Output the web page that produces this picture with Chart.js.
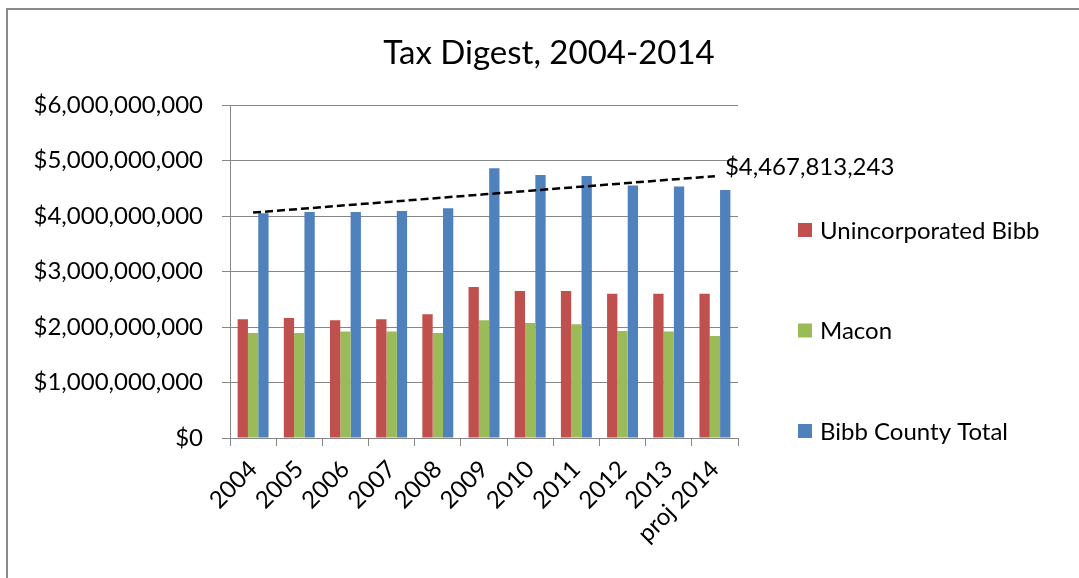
<!DOCTYPE html>
<html>
<head>
<meta charset="utf-8">
<title>Tax Digest, 2004-2014</title>
<script src="https://cdn.jsdelivr.net/npm/chart.js@4/dist/chart.umd.min.js"></script>
<style>
  html, body { margin: 0; padding: 0; background: #fff; }
  #wrap { width: 1079px; height: 578px; }
</style>
</head>
<body>
<div id="wrap"><canvas id="taxChart" width="1079" height="578"></canvas></div>
<script>
var years = ['2004', '2005', '2006', '2007', '2008', '2009', '2010', '2011', '2012', '2013', 'proj 2014'];
var unincorporated = [2140000000, 2160000000, 2120000000, 2140000000, 2230000000, 2720000000, 2650000000, 2650000000, 2600000000, 2600000000, 2600000000];
var macon = [1890000000, 1890000000, 1920000000, 1920000000, 1890000000, 2120000000, 2070000000, 2050000000, 1930000000, 1920000000, 1840000000];
var bibbTotal = [4050000000, 4070000000, 4070000000, 4090000000, 4140000000, 4860000000, 4740000000, 4720000000, 4550000000, 4530000000, 4467813243];
var yTicks = [0, 1000000000, 2000000000, 3000000000, 4000000000, 5000000000, 6000000000];

var FONT = 'Lato';
var GREY = '#868686';
var TITLE = 'Tax Digest, 2004-2014';

function money(v) {
  return '$' + Math.round(v).toLocaleString('en-US');
}

// least squares trend over the county total
function linearTrend(vals) {
  var n = vals.length, sx = 0, sy = 0, sxy = 0, sxx = 0;
  for (var i = 0; i < n; i++) {
    sx += i; sy += vals[i]; sxy += i * vals[i]; sxx += i * i;
  }
  var slope = (n * sxy - sx * sy) / (n * sxx - sx * sx);
  var icpt = (sy - slope * sx) / n;
  return vals.map(function (v, i) { return icpt + slope * i; });
}

// grey frame (top and left edges only are in view) plus the title
var frame = {
  id: 'frame',
  beforeDraw: function (chart) {
    var c = chart.ctx;
    c.save();
    c.strokeStyle = '#8a8a8a';
    c.lineWidth = 2;
    c.beginPath();
    c.moveTo(7, chart.height + 5);
    c.lineTo(7, 9);
    c.lineTo(chart.width + 5, 9);
    c.stroke();
    c.font = '33px ' + FONT;
    c.fillStyle = '#000';
    c.textAlign = 'center';
    c.textBaseline = 'alphabetic';
    c.fillText(TITLE, 549, 64);
    c.restore();
  }
};

// legend stacked down the right side
var sideLegend = {
  id: 'sideLegend',
  afterDraw: function (chart) {
    var c = chart.ctx, area = chart.chartArea;
    var x = area.right + 60, y = area.top + 125, step = 100.5;
    c.save();
    c.font = '24px ' + FONT;
    c.textBaseline = 'middle';
    c.textAlign = 'left';
    chart.data.datasets.forEach(function (ds) {
      if (ds.type === 'line') return;
      c.fillStyle = ds.backgroundColor;
      c.fillRect(x, y - 7, 14, 14);
      c.fillStyle = '#000';
      c.fillText(ds.label, x + 22, y + 1);
      y += step;
    });
    c.restore();
  }
};

// value label at the end of the trend line
var trendLabel = {
  id: 'trendLabel',
  afterDatasetsDraw: function (chart) {
    var meta = chart.getDatasetMeta(3);
    var pt = meta.data[meta.data.length - 1];
    var c = chart.ctx;
    c.save();
    c.font = '24px ' + FONT;
    c.fillStyle = '#000';
    c.textBaseline = 'middle';
    c.textAlign = 'left';
    c.fillText(money(bibbTotal[bibbTotal.length - 1]), pt.x + 10, pt.y - 9);
    c.restore();
  }
};

var ctx = document.getElementById('taxChart').getContext('2d');
var taxChart = new Chart(ctx, {
  type: 'bar',
  data: {
    labels: years,
    datasets: [
      { label: 'Unincorporated Bibb', data: unincorporated, backgroundColor: '#C0504D', order: 1 },
      { label: 'Macon', data: macon, backgroundColor: '#9BBB59', order: 1 },
      { label: 'Bibb County Total', data: bibbTotal, backgroundColor: '#4F81BD', order: 1 },
      {
        type: 'line', label: 'Trend', data: linearTrend(bibbTotal),
        borderColor: '#000', borderWidth: 2.5, borderDash: [8, 4],
        pointRadius: 0, fill: false, tension: 0, order: 0
      }
    ]
  },
  options: {
    responsive: false,
    animation: false,
    events: [],
    layout: { padding: { left: 10, top: 105, right: 341, bottom: 0 } },
    datasets: {
      bar: { categoryPercentage: 0.67, barPercentage: 1.0, borderWidth: 0 }
    },
    scales: {
      x: {
        grid: { drawOnChartArea: false, drawTicks: true, tickLength: 8, color: GREY },
        border: { color: GREY, width: 1 },
        ticks: {
          color: '#000', font: { family: FONT, size: 24 },
          minRotation: 45, maxRotation: 45, padding: 9, autoSkip: false
        },
        afterFit: function (s) { s.height = 140; }
      },
      y: {
        min: 0, max: 6000000000,
        afterBuildTicks: function (s) {
          s.ticks = yTicks.map(function (v) { return { value: v }; });
        },
        grid: { color: GREY, lineWidth: 1, tickLength: 8 },
        border: { color: GREY, width: 1 },
        ticks: {
          color: '#000', font: { family: FONT, size: 24 }, padding: 19,
          callback: function (v) { return money(v); }
        },
        afterFit: function (s) { s.width = 220; }
      }
    },
    plugins: {
      legend: { display: false },
      tooltip: { enabled: false },
      title: { display: false }
    }
  },
  plugins: [frame, sideLegend, trendLabel]
});
</script>
</body>
</html>
